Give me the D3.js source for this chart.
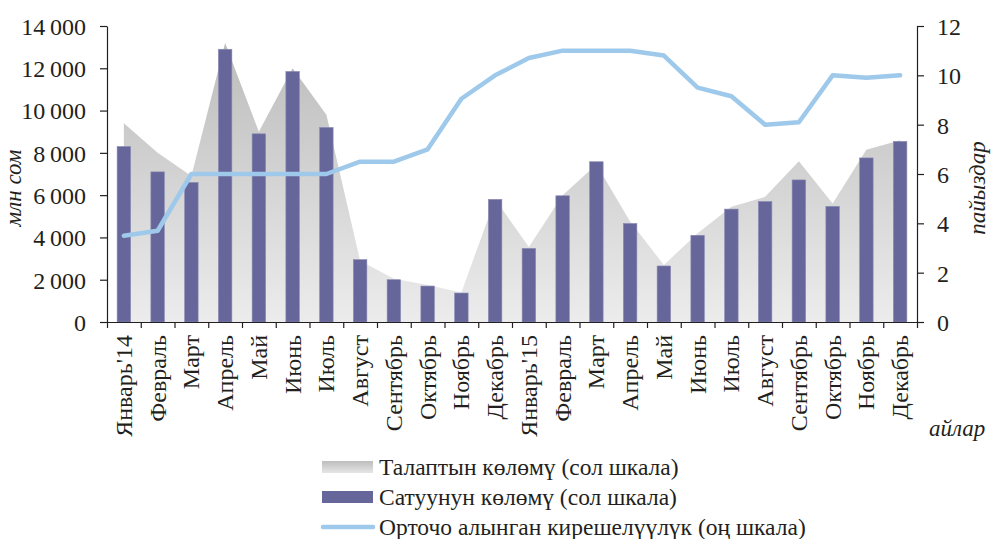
<!DOCTYPE html>
<html>
<head>
<meta charset="utf-8">
<script src="https://cdn.jsdelivr.net/npm/d3@7"></script>
<style>
    body { margin: 0; background: #fff; }
    #myPlot { width: 993px; height: 539px; }
</style>
</head>
<body>
<div id="myPlot"></div>
<script>
const months = ["Январь'14", "Февраль", "Март", "Апрель", "Май", "Июнь", "Июль", "Август", "Сентябрь", "Октябрь", "Ноябрь", "Декабрь",
    "Январь'15", "Февраль", "Март", "Апрель", "Май", "Июнь", "Июль", "Август", "Сентябрь", "Октябрь", "Ноябрь", "Декабрь"]

// талаптын көлөмү (млн сом)
const demand = [9400, 8000, 6900, 13200, 9000, 12000, 9800, 2900, 2050, 1750, 1400, 5800,
    3550, 6000, 7450, 4750, 2700, 4200, 5450, 5920, 7600, 5600, 8150, 8600]

// сатуунун көлөмү (млн сом)
const sales = [8300, 7100, 6600, 12900, 8900, 11850, 9200, 2950, 2000, 1700, 1370, 5800,
    3480, 5970, 7580, 4660, 2650, 4100, 5340, 5700, 6720, 5470, 7760, 8540]

// орточо алынган кирешелүүлүк (%)
const yieldRate = [3.5, 3.7, 6.0, 6.0, 6.0, 6.0, 6.0, 6.5, 6.5, 7.0, 9.05, 10.0,
    10.7, 11.0, 11.0, 11.0, 10.8, 9.5, 9.15, 8.0, 8.1, 10.0, 9.9, 10.0]

const leftTicks = [0, 2000, 4000, 6000, 8000, 10000, 12000, 14000]
const rightTicks = [0, 2, 4, 6, 8, 10, 12]

const legendItems = [
    {label: "Талаптын көлөмү (сол шкала)", kind: "area"},
    {label: "Сатуунун көлөмү (сол шкала)", kind: "bar"},
    {label: "Орточо алынган кирешелүүлүк (оң шкала)", kind: "line"}
]

const rootSelector = "#myPlot"
const margin = {top: 26, right: 76, bottom: 217, left: 107}
const clientWidth = 993
const clientHeight = 539
const width = clientWidth - margin.left - margin.right
const height = clientHeight - margin.top - margin.bottom

const fontFamily = "'Liberation Serif', 'Times New Roman', serif"
const textColor = "#231f20"
const barColor = "#66669a"
const lineColor = "#9ec9eb"

const root = d3.select(rootSelector).append("svg")
    .attr("width", clientWidth)
    .attr("height", clientHeight)
    .attr("font-family", fontFamily)

const defs = root.append("defs")
const grad = defs.append("linearGradient")
    .attr("id", "areaGrad")
    .attr("gradientUnits", "userSpaceOnUse")
    .attr("x1", 0).attr("y1", 0)
    .attr("x2", 0).attr("y2", height)
grad.append("stop").attr("offset", "0%").attr("stop-color", "#b9b9b9")
grad.append("stop").attr("offset", "100%").attr("stop-color", "#ececec")

const legGrad = defs.append("linearGradient")
    .attr("id", "legGrad")
    .attr("x1", 0).attr("y1", 0)
    .attr("x2", 0).attr("y2", 1)
legGrad.append("stop").attr("offset", "0%").attr("stop-color", "#bdbdbd")
legGrad.append("stop").attr("offset", "100%").attr("stop-color", "#e6e6e6")

const svg = root.append("g")
    .attr("transform", `translate(${margin.left}, ${margin.top})`)

const xScale = d3.scaleBand()
    .domain(d3.range(months.length))
    .range([0, width])

const yLeft = d3.scaleLinear()
    .domain([0, 14000])
    .range([height, 0])

const yRight = d3.scaleLinear()
    .domain([0, 12])
    .range([height, 0])

const cx = i => xScale(i) + xScale.bandwidth() / 2

// demand area
const area = d3.area()
    .x((d, i) => cx(i))
    .y0(height)
    .y1(d => yLeft(d))

svg.append("path")
    .datum(demand)
    .attr("fill", "url(#areaGrad)")
    .attr("d", area)

// sales bars
const barWidth = 13.5
svg.append("g")
    .selectAll("rect")
    .data(sales)
    .enter().append("rect")
    .attr("x", (d, i) => cx(i) - barWidth / 2)
    .attr("y", d => yLeft(d))
    .attr("width", barWidth)
    .attr("height", d => height - yLeft(d))
    .attr("fill", barColor)
    .attr("stroke", "#8a8ab4")
    .attr("stroke-width", 0.6)

// yield line
const line = d3.line()
    .x((d, i) => cx(i))
    .y(d => yRight(d))

svg.append("path")
    .datum(yieldRate)
    .attr("fill", "none")
    .attr("stroke", lineColor)
    .attr("stroke-width", 4.5)
    .attr("stroke-linejoin", "round")
    .attr("stroke-linecap", "round")
    .attr("d", line)

// axes
const fmt = d => d3.format(",")(d).replace(",", "\u2009")

const leftAxis = svg.append("g")
    .call(d3.axisLeft(yLeft).tickValues(leftTicks).tickFormat(fmt).tickSize(7).tickSizeOuter(0))
leftAxis.selectAll("text")
    .attr("font-size", 24).attr("font-family", fontFamily).attr("fill", textColor)
    .attr("x", -21).attr("dy", "0.35em")

const rightAxis = svg.append("g")
    .attr("transform", `translate(${width}, 0)`)
    .call(d3.axisRight(yRight).tickValues(rightTicks).tickSize(7).tickSizeOuter(0))
rightAxis.selectAll("text")
    .attr("font-size", 24).attr("font-family", fontFamily).attr("fill", textColor)
    .attr("x", 20).attr("dy", "0.35em")

svg.append("g")
    .attr("transform", `translate(0, ${height})`)
    .call(d3.axisBottom(d3.scaleLinear().domain([0, months.length]).range([0, width]))
        .tickValues(d3.range(months.length + 1)).tickSize(6).tickSizeOuter(0).tickFormat(""))

svg.selectAll(".domain, .tick line").attr("stroke", textColor).attr("stroke-width", 1.2)

svg.append("g")
    .attr("transform", `translate(0, ${height})`)
    .selectAll("text")
    .data(months)
    .enter().append("text")
    .attr("transform", (d, i) => `translate(${cx(i) + 8}, 13) rotate(-90)`)
    .attr("text-anchor", "end")
    .attr("font-size", 24)
    .attr("fill", textColor)
    .text(d => d)

// axis titles
svg.append("text")
    .attr("transform", `translate(${-86}, ${height / 2 + 14}) rotate(-90)`)
    .attr("text-anchor", "middle")
    .attr("font-size", 23)
    .attr("font-style", "italic")
    .attr("fill", textColor)
    .text("млн сом")

svg.append("text")
    .attr("transform", `translate(${width + 68}, ${height / 2 + 14}) rotate(-90)`)
    .attr("text-anchor", "middle")
    .attr("font-size", 23)
    .attr("font-style", "italic")
    .attr("fill", textColor)
    .text("пайыздар")

svg.append("text")
    .attr("x", width + 12)
    .attr("y", height + 114)
    .attr("font-size", 23)
    .attr("font-style", "italic")
    .attr("fill", textColor)
    .text("айлар")

// legend
const legend = root.append("g")
    .attr("transform", "translate(322, 467)")

const rows = legend.selectAll("g")
    .data(legendItems)
    .enter().append("g")
    .attr("transform", (d, i) => `translate(0, ${i * 30})`)

rows.filter(d => d.kind === "area").append("rect")
    .attr("x", 0).attr("y", -6).attr("width", 51).attr("height", 12)
    .attr("fill", "url(#legGrad)")

rows.filter(d => d.kind === "bar").append("rect")
    .attr("x", 0).attr("y", -6).attr("width", 51).attr("height", 12)
    .attr("fill", barColor)

rows.filter(d => d.kind === "line").append("line")
    .attr("x1", 1).attr("x2", 51).attr("y1", 0).attr("y2", 0)
    .attr("stroke", lineColor).attr("stroke-width", 4.5).attr("stroke-linecap", "round")

rows.append("text")
    .attr("x", 57)
    .attr("dy", "0.35em")
    .attr("font-size", 23.5)
    .attr("fill", textColor)
    .text(d => d.label)
</script>
</body>
</html>
